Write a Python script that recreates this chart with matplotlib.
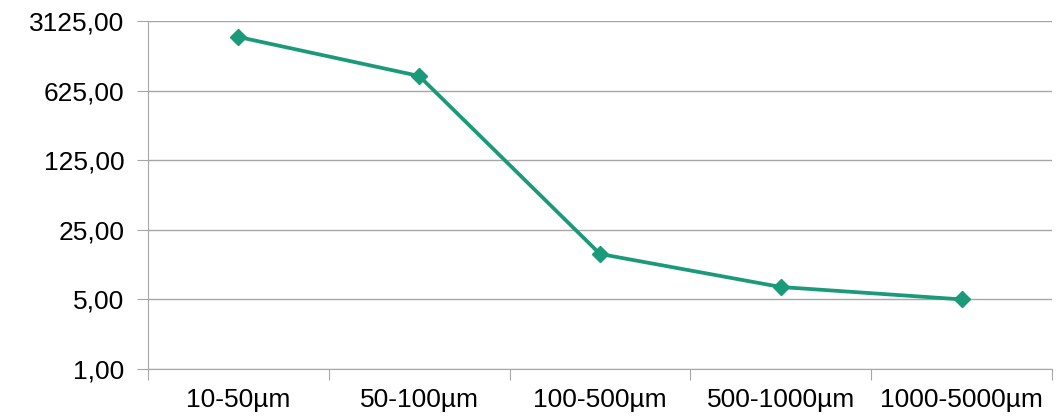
import numpy as np
import matplotlib.pyplot as plt
from matplotlib.ticker import FixedLocator, FuncFormatter, NullFormatter

categories = ['10-50µm', '50-100µm', '100-500µm', '500-1000µm', '1000-5000µm']
values = [2160, 876, 14.3, 6.66, 5.0]
y_ticks = [1, 5, 25, 125, 625, 3125]

plt.rcParams['font.family'] = ['Liberation Sans', 'DejaVu Sans']

fig = plt.figure(figsize=(10.59, 4.17), dpi=100)
ax = fig.add_axes([148 / 1059, 48 / 417, 904 / 1059, 348 / 417])
    # plot area placed like the reference

x = np.arange(len(categories))
ax.plot(x, values, color='#1a9a78', linewidth=2.7, marker='D', markersize=8, zorder=3)

ax.set_yscale('log', base=5)
ax.set_ylim(1, 3125)
ax.yaxis.set_major_locator(FixedLocator(y_ticks))
ax.yaxis.set_minor_locator(FixedLocator([]))
ax.yaxis.set_major_formatter(FuncFormatter(lambda v, p: f'{v:.2f}'.replace('.', ',')))
ax.grid(axis='y', color='#a6a6a6', linewidth=1)
    # log axis with base 5 and comma decimals

ax.set_xlim(-0.5, len(categories) - 0.5)
ax.xaxis.set_major_locator(FixedLocator(np.arange(len(categories) + 1) - 0.5))
ax.xaxis.set_major_formatter(NullFormatter())
ax.xaxis.set_minor_locator(FixedLocator(x))
ax.set_xticklabels(categories, minor=True)
ax.tick_params(axis='x', which='major', length=8, color='#a6a6a6', direction='out')
ax.tick_params(axis='x', which='minor', length=0, pad=14, labelsize=19)
ax.tick_params(axis='y', length=8, color='#a6a6a6', labelsize=19, pad=9)
    # ticks between categories, labels centred

for side in ['top', 'right']:
    ax.spines[side].set_visible(False)
for side in ['left', 'bottom']:
    ax.spines[side].set_color('#a6a6a6')

fig.savefig('out.png', dpi=100)
